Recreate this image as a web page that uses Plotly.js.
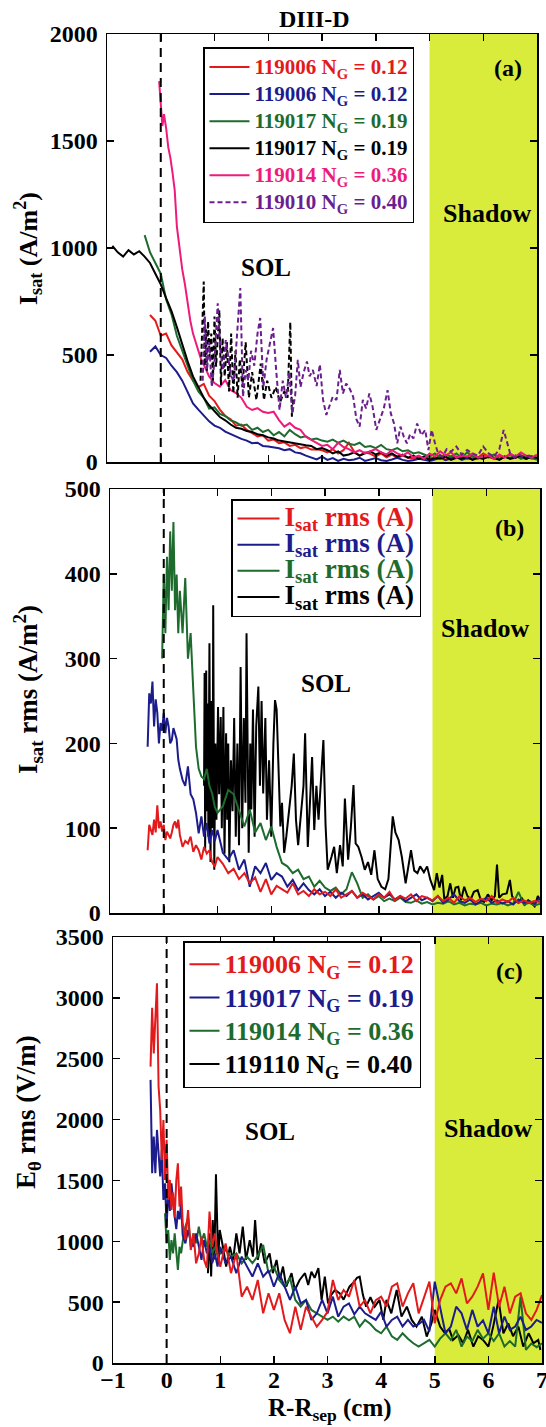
<!DOCTYPE html>
<html><head><meta charset="utf-8">
<script src="https://cdn.plot.ly/plotly-3.0.1.min.js"></script>
<style>html,body{margin:0;padding:0;background:#fff}#chart{width:546px;height:1427px}</style>
</head><body><div id="chart"></div>
<script>
// ---------- Panel (a) data: Isat (A/m^2) ----------
const xGridA = [-0.9,-0.8,-0.7,-0.6,-0.5,-0.4,-0.3,-0.2,-0.1,0,
0.1,0.2,0.3,0.4,0.5,0.6,0.7,0.8,0.9,1.0,
1.1,1.2,1.3,1.4,1.5,1.6,1.7,1.8,1.9,2.0,
2.1,2.2,2.3,2.4,2.5,2.6,2.7,2.8,2.9,3.0,
3.1,3.2,3.3,3.4,3.5,3.6,3.7,3.8,3.9,4.0,
4.1,4.2,4.3,4.4,4.5,4.6,4.7,4.8,4.9,5.0,
5.1,5.2,5.3,5.4,5.5,5.6,5.7,5.8,5.9,6.0,
6.1,6.2,6.3,6.4,6.5,6.6,6.7,6.8,6.9,7.0];
const a_red_119006 = [null,null,null,null,null,null,null,687,660,590,
600,545,510,480,420,380,350,365,310,285,
245,215,200,170,175,150,135,120,125,100,
105,88,92,75,80,65,70,58,60,55,
45,60,40,55,90,48,30,45,38,25,
40,22,35,18,30,20,15,28,12,20,
15,30,10,25,18,35,15,28,20,40,
25,15,30,22,35,20,30,25,15,20];
const a_navy_119006 = [null,null,null,null,null,null,null,515,540,500,
486,450,420,380,330,274,245,215,190,170,
160,142,130,118,108,100,88,90,75,72,
68,64,55,60,45,41,30,20,12,25,
10,18,5,15,8,12,20,5,10,18,
8,5,12,20,10,5,8,15,10,5,
12,20,8,15,25,10,18,12,22,15,
28,18,12,25,15,30,20,15,25,18];
const a_green_119017 = [null,null,null,null,null,null,1060,980,930,880,
760,690,590,520,440,380,330,300,250,255,
225,215,195,185,170,175,150,160,140,150,
125,140,120,150,130,115,120,105,110,100,
95,105,90,100,85,80,90,70,75,65,
80,60,55,65,50,55,40,45,35,25,
40,20,35,25,40,20,45,25,15,30,
20,35,15,25,20,30,15,25,20,10];
const a_black_119017 = [1010,980,960,990,970,985,960,930,880,830,
766,705,630,547,470,400,350,300,265,235,
210,195,175,160,155,145,140,130,125,115,
110,100,95,90,85,80,78,75,60,65,
55,40,50,30,35,45,30,40,50,35,
45,30,40,25,35,20,30,15,25,10,
20,15,25,10,20,15,25,10,20,15,
25,20,10,25,15,20,30,15,25,20];
const xPink = [-0.03,0,0.03,0.06,0.1,0.14,0.18,0.22,0.26,0.3,
0.35,0.4,0.45,0.5,0.55,0.6,0.65,0.7,0.75,0.8,
0.85,0.9,1.0,1.1,1.2,1.3,1.4,1.5,1.6,1.7,
1.8,1.9,2.0,2.1,2.2,2.3,2.4,2.5,2.6,2.7,
2.8,2.9,3.0,3.1,3.2,3.3,3.4,3.5,3.6,3.7,
3.8,3.9,4.0,4.1,4.2,4.3,4.4,4.5,4.6,4.7,
4.8,4.9,5.0,5.1,5.2,5.3,5.4,5.5,5.6,5.7,
5.8,5.9,6.0,6.1,6.2,6.3,6.4,6.5,6.6,6.7,
6.8,6.9,7.0];
const a_pink_119014 = [1780,1660,1570,1625,1560,1470,1420,1350,1270,1100,
990,900,830,740,660,600,560,520,480,455,
430,400,369,352,383,336,322,300,258,243,
252,235,229,235,196,165,182,160,150,118,
103,87,75,80,60,90,70,60,45,55,
40,50,60,45,35,55,40,30,45,20,
30,15,40,25,50,30,45,20,30,25,
40,20,25,30,15,35,20,40,25,45,
30,20,35];
const xPurple = [0.78,0.82,0.86,0.9,0.95,1.0,1.06,1.11,1.16,1.21,
1.26,1.31,1.36,1.42,1.48,1.53,1.58,1.63,1.68,1.74,
1.8,1.85,1.91,1.97,2.03,2.09,2.15,2.21,2.27,2.33,
2.39,2.45,2.5,2.55,2.6,2.66,2.72,2.77,2.83,2.9,
2.96,3.02,3.08,3.14,3.2,3.27,3.33,3.39,3.45,3.52,
3.58,3.64,3.7,3.76,3.82,3.88,3.94,4.01,4.08,4.15,
4.22,4.28,4.34,4.4,4.46,4.52,4.58,4.64,4.7,4.77,
4.85,4.92,4.98,5.04,5.1,5.16,5.24,5.32,5.4,5.5,
5.6,5.7,5.8,5.9,6.0,6.1,6.2,6.3,6.38,6.44,
6.5,6.58,6.66,6.75,6.85,6.95];
const a_purple_119010 = [380,680,430,560,350,470,742,520,430,570,
480,400,380,610,813,305,430,380,520,450,
600,673,352,480,560,626,420,243,380,300,
420,229,310,477,350,420,470,400,430,355,
456,290,220,260,305,290,430,320,367,340,
305,200,165,290,250,320,260,150,200,250,
336,227,180,87,165,120,87,130,110,180,
125,150,56,150,90,40,25,60,48,72,
35,56,40,30,72,40,25,60,150,90,
40,20,35,25,30,20];
const xBlackDot = [0.74,0.76,0.78,0.8,0.82,0.84,0.86,0.88,0.91,0.94,
0.97,1.0,1.03,1.06,1.09,1.12,1.15,1.19,1.23,1.27,
1.31,1.35,1.39,1.43,1.47,1.52,1.58,1.64,1.7,1.78,
1.86,1.92,1.98,2.06,2.14,2.22,2.3,2.36,2.41,2.44,
2.47];
const a_blackDot = [380,520,700,843,450,620,425,658,490,600,
380,680,445,560,710,360,580,400,560,330,
600,322,520,300,480,350,560,300,420,290,
460,290,380,300,350,280,330,300,653,212,
300];

// ---------- Shared grid for panels (b) and (c) ----------
const xGridBC = [-0.3,-0.27,-0.24,-0.21,-0.18,-0.15,-0.12,-0.09,-0.06,-0.03,
0,0.03,0.06,0.09,0.12,0.15,0.18,0.21,0.24,0.27,
0.3,0.35,0.4,0.45,0.5,0.55,0.6,0.65,0.7,0.75,
0.8,0.85,0.9,0.95,1.0,1.1,1.2,1.3,1.4,1.5,
1.6,1.7,1.8,1.9,2.0,2.1,2.2,2.3,2.4,2.5,
2.6,2.7,2.8,2.9,3.0,3.1,3.2,3.3,3.4,3.5,
3.6,3.7,3.8,3.9,4.0,4.1,4.2,4.3,4.4,4.5,
4.6,4.7,4.8,4.9,5.0,5.1,5.2,5.3,5.4,5.5,
5.6,5.7,5.8,5.9,6.0,6.1,6.2,6.3,6.4,6.5,
6.6,6.7,6.8,6.9,7.0];

// ---------- Panel (b) data: Isat rms ----------
const b_red = [74,104,98,92,110,95,127,100,108,96,
104,86,96,92,88,95,104,108,100,110,
92,78,85,82,90,72,80,74,63,78,
70,74,60,55,66,58,47,52,40,47,
35,42,25,40,22,32,28,24,35,22,
26,20,28,22,25,20,28,18,22,26,
18,24,20,16,22,18,25,15,20,17,
22,14,20,18,15,20,14,18,12,20,
15,18,13,17,14,20,12,16,13,18,
12,15,12,14,13];
const b_navy = [196,259,247,273,220,252,236,200,224,215,
236,212,230,220,200,204,218,212,205,181,
170,157,150,173,140,134,118,94,114,90,
106,82,98,85,98,71,63,74,51,63,
31,55,47,59,39,47,43,31,39,27,
35,27,22,28,20,25,18,24,20,26,
18,22,16,20,24,18,22,16,20,14,
18,22,15,18,14,20,12,16,22,14,
12,16,10,14,18,12,15,11,14,10,
16,12,14,11,18];
const b_green = [null,null,null,null,null,null,null,null,null,300,
400,330,420,357,450,380,461,357,399,330,
380,330,395,300,330,262,196,170,161,158,
170,150,141,125,118,126,145,140,120,102,
122,95,106,86,102,78,59,55,47,51,
40,43,31,38,30,26,30,22,28,48,
35,18,22,16,20,14,17,14,18,13,
12,15,11,13,10,12,11,14,10,12,
9,11,10,12,9,11,10,12,9,11,
25,10,12,9,11];
const xBlackB = [0.75,0.76,0.77,0.79,0.8,0.82,0.83,0.85,0.87,0.89,
0.91,0.92,0.94,0.96,0.98,1.01,1.03,1.06,1.08,1.11,
1.13,1.16,1.18,1.2,1.22,1.25,1.28,1.31,1.34,1.37,
1.4,1.43,1.46,1.49,1.52,1.54,1.58,1.61,1.63,1.66,
1.69,1.72,1.76,1.79,1.82,1.85,1.89,1.92,1.96,2.0,
2.04,2.07,2.1,2.13,2.17,2.2,2.24,2.28,2.33,2.38,
2.42,2.46,2.5,2.55,2.6,2.63,2.68,2.72,2.76,2.8,
2.84,2.88,2.93,2.97,3.01,3.05,3.12,3.17,3.22,3.28,
3.33,3.37,3.43,3.48,3.53,3.57,3.62,3.68,3.74,3.8,
3.86,3.92,3.98,4.05,4.12,4.18,4.26,4.31,4.37,4.43,
4.5,4.55,4.6,4.66,4.72,4.77,4.84,4.9,4.96,5.03,
5.08,5.13,5.18,5.22,5.28,5.33,5.38,5.43,5.48,5.53,
5.59,5.65,5.71,5.77,5.84,5.9,5.96,6.03,6.1,6.16,
6.2,6.24,6.3,6.38,6.44,6.48,6.53,6.6,6.66,6.72,
6.78,6.84,6.9,6.96,7.0];
const b_black = [150,283,74,286,120,247,90,318,60,250,
100,363,51,200,110,243,140,231,100,243,
70,212,110,200,60,180,120,230,90,200,
80,290,100,230,130,330,71,200,122,240,
90,220,267,150,250,141,230,110,180,90,
200,251,240,169,102,130,71,90,120,150,
188,110,80,120,150,212,78,130,184,98,
150,110,170,204,104,51,66,78,47,80,
55,135,63,100,151,82,78,66,51,60,
45,74,40,31,28,40,114,95,86,66,
35,55,74,50,47,55,48,55,39,27,
47,30,45,16,20,35,18,30,31,15,
31,20,16,25,27,15,13,22,15,20,
57,18,22,23,39,20,15,12,18,10,
15,12,8,20,15];

// ---------- Panel (c) data: E_theta rms (V/m) ----------
const c_red_119006 = [2435,2918,2544,2850,3120,2271,2078,1669,1997,1504,
1833,1340,1504,1257,1400,1200,1500,1640,1285,1449,
1150,1010,1257,928,1065,819,900,1038,847,780,
1244,955,1065,900,791,983,738,900,545,627,
518,682,408,573,436,573,354,245,463,272,
463,381,299,354,420,682,517,600,545,682,
463,517,408,517,545,463,627,655,463,572,
655,408,545,668,326,517,627,654,572,695,
490,545,627,736,436,743,463,627,408,545,
572,408,354,436,558];
const c_navy_119017 = [2326,1560,1860,1560,1915,1669,1532,1750,1340,1476,
1120,1422,1250,1476,1300,1202,1100,1250,1180,1312,
1050,983,1093,1000,955,1065,960,847,1010,901,
950,820,900,792,955,819,874,738,874,792,
710,819,710,760,627,738,627,518,627,490,
518,354,408,518,408,545,381,463,490,400,
463,408,381,354,420,299,354,380,300,354,
299,320,354,260,668,463,244,299,463,408,
272,436,299,350,244,463,244,381,272,300,
381,272,300,354,330];
const c_green_119014 = [null,null,null,null,null,null,null,null,null,1230,
983,1093,847,1010,901,1065,874,765,955,901,
1000,1120,1190,955,1065,983,1120,1000,1065,955,
1010,900,955,880,901,928,874,901,819,874,
820,880,970,738,792,682,627,700,518,463,
518,436,408,381,354,381,340,381,350,380,
299,354,320,272,244,299,220,190,244,200,
162,135,162,190,135,200,244,190,272,135,
217,180,272,200,244,180,244,135,180,135,
545,107,160,130,162];
const xBlackC = [0.77,0.8,0.83,0.86,0.89,0.92,0.96,0.99,1.05,1.11,
1.18,1.24,1.3,1.36,1.42,1.48,1.55,1.61,1.65,1.7,
1.76,1.83,1.92,1.98,2.05,2.11,2.17,2.23,2.33,2.39,
2.48,2.58,2.64,2.7,2.76,2.83,2.89,2.95,3.01,3.07,
3.14,3.23,3.3,3.41,3.5,3.55,3.6,3.66,3.72,3.8,
3.88,3.97,4.04,4.1,4.19,4.29,4.38,4.48,4.57,4.66,
4.76,4.85,4.94,5.0,5.1,5.19,5.27,5.34,5.44,5.53,
5.62,5.72,5.81,5.9,6.0,6.09,6.19,6.28,6.37,6.46,
6.56,6.65,6.75,6.84,6.93,6.97];
const c_black_119110 = [738,1065,710,1175,850,1550,847,1093,955,792,
955,847,1065,901,1120,847,1010,874,1175,847,
983,819,901,738,847,682,792,627,738,600,
682,738,640,750,700,780,518,709,490,560,
600,572,520,627,668,700,709,560,463,540,
463,518,354,518,408,600,381,463,354,299,
381,217,326,436,299,244,280,190,230,162,
272,135,220,190,135,299,518,244,326,220,
299,135,244,162,190,107];

// ---------- Labels ----------
const legendA = ['119006 N<sub>G</sub> = 0.12','119006 N<sub>G</sub> = 0.12','119017 N<sub>G</sub> = 0.19','119017 N<sub>G</sub> = 0.19','119014 N<sub>G</sub> = 0.36','119010 N<sub>G</sub> = 0.40'];
const legendB = ['I<sub>sat</sub> rms (A)','I<sub>sat</sub> rms (A)','I<sub>sat</sub> rms (A)','I<sub>sat</sub> rms (A)'];
const legendC = ['119006 N<sub>G</sub> = 0.12','119017 N<sub>G</sub> = 0.19','119014 N<sub>G</sub> = 0.36','119110 N<sub>G</sub> = 0.40'];
const xTickVals = [-1,0,1,2,3,4,5,6,7];
const SEP_X = 0, SHADOW_X0 = 5, SHADOW_X1 = 7;

// ---------- Style ----------
const W = 546, H = 1427;
const SERIF = 'Liberation Serif';
const COL = {red:'#e31a1c', navy:'#1c1c8c', green:'#1e6b2e', black:'#000000', pink:'#ee1b7d', purple:'#6b1f8f'};
const SHADOW = '#d9ec3b';
const LW = 2;
const DOT = '5px,3px';
function nm(t, c, s){ return '<span style="color:' + c + ';font-size:' + s + 'px">' + t + '</span>'; }
function tr(x, y, c, xa, ya, name, lg, extra){
  return Object.assign({type:'scatter', mode:'lines', x:x, y:y, xaxis:xa, yaxis:ya,
    line:{color:c, width:LW}, name:name, legend:lg, connectgaps:false, hoverinfo:'skip'}, extra||{});
}
const traces = [
  tr(xGridA, a_red_119006, COL.red, 'x','y', nm(legendA[0], COL.red, 21), 'legend'),
  tr(xGridA, a_navy_119006, COL.navy, 'x','y', nm(legendA[1], COL.navy, 21), 'legend'),
  tr(xGridA, a_green_119017, COL.green, 'x','y', nm(legendA[2], COL.green, 21), 'legend'),
  tr(xGridA, a_black_119017, COL.black, 'x','y', nm(legendA[3], COL.black, 21), 'legend'),
  tr(xPink, a_pink_119014, COL.pink, 'x','y', nm(legendA[4], COL.pink, 21), 'legend'),
  tr(xBlackDot, a_blackDot, COL.black, 'x','y', 'dotted', 'legend', {showlegend:false, line:{color:COL.black, width:LW, dash:DOT}}),
  tr(xPurple, a_purple_119010, COL.purple, 'x','y', nm(legendA[5], COL.purple, 21), 'legend', {line:{color:COL.purple, width:LW, dash:DOT}}),

  tr(xBlackB, b_black, COL.black, 'x2','y2', nm(legendB[3], COL.black, 27), 'legend2', {legendrank:4}),
  tr(xGridBC, b_green, COL.green, 'x2','y2', nm(legendB[2], COL.green, 27), 'legend2', {legendrank:3}),
  tr(xGridBC, b_navy, COL.navy, 'x2','y2', nm(legendB[1], COL.navy, 27), 'legend2', {legendrank:2}),
  tr(xGridBC, b_red, COL.red, 'x2','y2', nm(legendB[0], COL.red, 27), 'legend2', {legendrank:1}),

  tr(xBlackC, c_black_119110, COL.black, 'x3','y3', nm(legendC[3], COL.black, 26), 'legend3', {legendrank:4}),
  tr(xGridBC, c_green_119014, COL.green, 'x3','y3', nm(legendC[2], COL.green, 26), 'legend3', {legendrank:3}),
  tr(xGridBC, c_navy_119017, COL.navy, 'x3','y3', nm(legendC[1], COL.navy, 26), 'legend3', {legendrank:2}),
  tr(xGridBC, c_red_119006, COL.red, 'x3','y3', nm(legendC[0], COL.red, 26), 'legend3', {legendrank:1})
];

function ax(extra){
  return Object.assign({showline:true, linecolor:'black', linewidth:1.5, mirror:'ticks',
    ticks:'inside', ticklen:7, tickwidth:1.5, tickcolor:'black', showgrid:false, zeroline:false,
    fixedrange:true, ticklabelstandoff:3, ticklabeloverflow:'allow',
    tickfont:{family:SERIF, size:24, color:'black', weight:'bold'}}, extra);
}
const xCommon = {range:[-1,7], tickmode:'array', tickvals:xTickVals};
const layout = {
  width:W, height:H, autosize:false,
  margin:{l:0, r:0, t:0, b:0},
  paper_bgcolor:'white', plot_bgcolor:'white',
  showlegend:true, hovermode:false,
  font:{family:SERIF, color:'black'},
  xaxis: ax(Object.assign({domain:[107/W, 537/W], anchor:'y', showticklabels:false}, xCommon)),
  yaxis: ax({domain:[1-462/H, 1-34/H], range:[0,2000], dtick:500, anchor:'x'}),
  xaxis2: ax(Object.assign({domain:[110/W, 540/W], anchor:'y2', showticklabels:false}, xCommon)),
  yaxis2: ax({domain:[1-913/H, 1-489/H], range:[0,500], dtick:100, anchor:'x2'}),
  xaxis3: ax(Object.assign({domain:[113/W, 542/W], anchor:'y3', ticklabelstandoff:-5}, xCommon)),
  yaxis3: ax({domain:[1-1363/H, 1-937/H], range:[0,3500], dtick:500, anchor:'x3'}),
  legend: {x:203/W, y:1-47/H, xanchor:'left', yanchor:'top', bgcolor:'white', bordercolor:'black', borderwidth:1.5,
    font:{family:SERIF, size:18.5, color:'black', weight:'bold'}, itemwidth:40, traceorder:'normal'},
  legend2: {x:231/W, y:1-499/H, xanchor:'left', yanchor:'top', bgcolor:'white', bordercolor:'black', borderwidth:1.5,
    font:{family:SERIF, size:17.8, color:'black', weight:'bold'}, itemwidth:42, traceorder:'normal'},
  legend3: {x:183/W, y:1-941/H, xanchor:'left', yanchor:'top', bgcolor:'white', bordercolor:'black', borderwidth:1.5,
    font:{family:SERIF, size:23.3, color:'black', weight:'bold'}, itemwidth:30, traceorder:'normal'},
  shapes: [],
  annotations: []
};
[['x','y'],['x2','y2'],['x3','y3']].forEach(function(p){
  layout.shapes.push({type:'rect', xref:p[0], yref:p[1]+' domain', x0:SHADOW_X0, x1:SHADOW_X1, y0:0, y1:1,
    fillcolor:SHADOW, line:{width:0}, layer:'below'});
  layout.shapes.push({type:'line', xref:p[0], yref:p[1]+' domain', x0:SEP_X, x1:SEP_X, y0:0, y1:1,
    line:{color:'black', width:2, dash:'9px,6px'}, layer:'above'});
});
function ann(text, xp, yp, size, extra){
  return Object.assign({text:text, xref:'paper', yref:'paper', x:xp/W, y:1-yp/H, xanchor:'center', yanchor:'middle',
    showarrow:false, font:{family:SERIF, size:size, color:'black', weight:'bold'}}, extra||{});
}
layout.annotations.push(
  ann('DIII-D', 314, 19, 24),
  ann('(a)', 508, 68, 24), ann('Shadow', 487, 213, 26), ann('SOL', 266, 268, 25),
  ann('(b)', 509, 528, 24), ann('Shadow', 485, 628, 26), ann('SOL', 326, 683, 25),
  ann('(c)', 509, 971, 24), ann('Shadow', 488, 1128, 26), ann('SOL', 270, 1131, 25),
  ann('I<sub>sat</sub> (A/m<sup>2</sup>)', 28, 249, 26, {textangle:-90}),
  ann('I<sub>sat</sub> rms (A/m<sup>2</sup>)', 28, 690, 27, {textangle:-90}),
  ann('E<sub>θ</sub> rms (V/m)', 28, 1112, 27, {textangle:-90}),
  ann('R-R<sub>sep</sub> (cm)', 330, 1427, 25, {yanchor:'bottom'})
);
Plotly.newPlot('chart', traces, layout, {displayModeBar:false, staticPlot:true});
</script>
</body></html>
